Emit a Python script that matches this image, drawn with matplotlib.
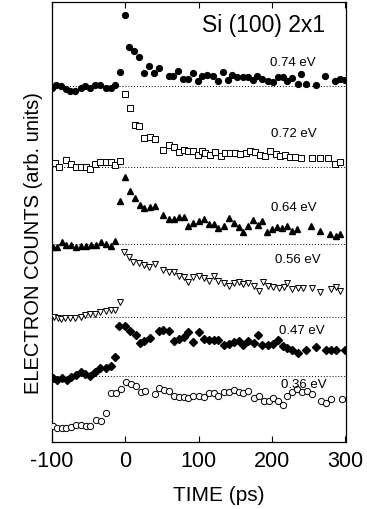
import numpy as np
import matplotlib
matplotlib.use("Agg")
import matplotlib.pyplot as plt

plt.rcParams['font.family'] = ['Liberation Sans', 'DejaVu Sans']
plt.rcParams['axes.unicode_minus'] = False

# time delay (ps) and electron counts (arb. units, relative to each trace's pre-zero level)
t_074 = [-100, -94, -88, -81, -75, -68, -61, -55, -48, -41, -34, -27, -20, -14,
         -7, -1, 5, 12, 19, 25, 32, 39, 46, 59, 65, 72, 79, 85, 92, 99, 105,
         112, 119, 126, 133, 140, 146, 153, 160, 167, 174, 180, 187, 194, 201,
         208, 215, 221, 228, 235, 240, 246, 260, 273, 286, 293, 300]
c_074 = [-2, 1.3, 0, -2.7, -4.3, -4.3, -1.3, 0, -2, 1.3, 1.3, -2, -1.3, 1.7,
         14.7, 71.7, 39.7, 35.7, 29.7, 13, 20.3, 13, 18, 10.7, 10.7, 15.3, 7.3, 7.3, 13.3, 5.7, 10,
         11.3, 10, 5.7, 14, 6.7, 11.3, 9, 9, 9, 6.3, 10, 7.3, 5.7, 4.7,
         9, 9, 5.7, 8, 2.3, 12.3, 2.3, 1.3, 10.7, 5.7, 7.3, 6.7]

t_072 = [-96, -91, -81, -74, -67, -60, -54, -48, -41, -34, -27, -20, -14, -7,
         -1, 6, 13, 19, 26, 33, 40, 52, 59, 66, 73, 80, 86, 93, 99, 104,
         109, 116, 123, 130, 136, 143, 150, 157, 164, 170, 177, 184, 191, 198,
         205, 211, 218, 225, 232, 239, 254, 266, 277, 286, 293]
c_072 = [4, 0.7, 7.7, 3.3, 0, 0, 0, -1.7, 3.3, 5, 5, 5, 2.7, 6.7,
         73.3, 59.3, 42, 41, 29.6, 30, 28.6, 17.6, 22.6, 20.6, 15.6, 17.6, 16.6, 16, 12.3, 16,
         14, 12.3, 15, 11.7, 14.3, 14, 14, 13.7, 14, 16.7, 15, 12.3, 11.7, 16,
         13.3, 11.7, 12.3, 10, 10, 9, 9, 9, 9, 3.3, 5.7]

t_064 = [-98, -93, -87, -81, -74, -67, -60, -54, -47, -40, -33, -27, -20, -14,
         -7, 0, 6, 13, 20, 26, 33, 40, 52, 59, 66, 73, 80, 86, 93, 100, 107,
         114, 121, 127, 134, 141, 148, 155, 161, 167, 174, 181, 187, 193, 200,
         207, 214, 221, 227, 234, 253, 266, 279, 287, 293]
c_064 = [-3.3, -3.3, 1.7, -1, -1, -3.3, -2.3, -2.3, -1, -1, 1.7, 0, -2.3, 3.3,
         43.3, 67.3, 52.7, 45.7, 39, 35.7, 36.7, 38.3, 29, 25, 25, 26.7, 26.7, 18.3, 21, 23.3, 25,
         20, 20, 15.7, 17.7, 25.7, 21, 16.7, 11.7, 18.3, 24.3, 19, 23.3, 11.7, 15,
         16.7, 15.7, 17.7, 13.3, 15, 17.7, 13.3, 10, 8.3, 10]

t_056 = [-97, -92, -88, -82, -75, -68, -61, -55, -48, -41, -34, -27, -20, -14, -7,
         -2, 5, 11, 18, 25, 32, 41, 52, 59, 66, 73, 80, 86, 93, 100, 107,
         114, 121, 127, 134, 141, 148, 155, 161, 168, 175, 182, 188, 195, 202,
         209, 216, 221, 228, 235, 242, 254, 266, 280, 287, 293]
c_056 = [0, -1, -1.7, -0.7, -0.7, -0.7, 0, 2.3, 3.3, 3.3, 5, 6.7, 7.3, 7.3, 15.7,
         65.7, 60, 55.7, 54.3, 52.3, 50, 53.3, 47.7, 45.7, 45, 41, 40, 35, 40, 41, 39,
         36.7, 41.7, 36.7, 34, 31.7, 34.3, 35, 33.3, 34.3, 31.7, 26.7, 35, 31.7, 30,
         29, 30, 34.3, 28.3, 29, 29, 29, 25.7, 28.3, 30, 26.7]

t_047 = [-99, -93, -86, -80, -74, -67, -60, -55, -48, -41, -34, -27, -20, -14,
         -8, -1, 7, 14, 20, 26, 33, 46, 52, 59, 66, 73, 80, 86, 93, 100, 107,
         114, 121, 127, 134, 141, 148, 155, 161, 168, 175, 181, 187, 194, 201,
         208, 215, 221, 228, 235, 247, 260, 274, 281, 287, 299]
c_047 = [-2, -3.3, -2, -3.3, -1, 1.3, 4, 2.3, 0, 4, 8, 8, 10, 19,
         50, 50.7, 45.7, 41.3, 33.3, 35.7, 38, 45.7, 46.7, 45.7, 35.7, 37.3, 39, 44, 34, 44, 37.3,
         36.7, 36.7, 36.7, 31.3, 32.3, 34.7, 35.7, 31.3, 35.7, 33.3, 41.7, 31.3, 31.3, 32.3,
         36.7, 30.7, 28, 26.7, 23, 26.7, 29, 26.7, 26.7, 26.7, 26.7]

t_036 = [-98, -93, -87, -81, -74, -67, -60, -54, -48, -40, -33, -26, -20, -13,
         -6, 1, 8, 14, 21, 27, 40, 46, 53, 60, 67, 73, 80, 86, 93, 100, 107,
         114, 121, 127, 134, 141, 148, 155, 161, 168, 175, 182, 189, 196, 201,
         208, 215, 221, 227, 234, 241, 248, 255, 267, 274, 281, 295]
c_036 = [1.7, -0.7, -0.7, -0.7, 0, 2.7, 2.7, 1.7, 1.7, 7.7, 6.7, 14, 34, 34,
         38.3, 45, 43.3, 41, 35, 36.7, 33.3, 39, 37.7, 36.7, 31.7, 30, 30, 29, 31.7, 31.7, 30,
         34, 34, 31, 35, 35, 37.7, 35, 34, 36, 29, 31, 26.7, 26, 29,
         26.7, 22.3, 31, 35, 38.3, 35, 36, 33.3, 26.7, 24.3, 28.3, 28.3]

labels = ['0.74 eV', '0.72 eV', '0.64 eV', '0.56 eV', '0.47 eV', '0.36 eV']
times = [t_074, t_072, t_064, t_056, t_047, t_036]
counts = [c_074, c_072, c_064, c_056, c_047, c_036]

# layout / style per trace
offsets = [355.7, 274.7, 198, 124.7, 65.7, 14.7]
styles = [dict(marker='o', ms=4.2, mfc='k', mec='k'),
          dict(marker='s', ms=4.3, mfc='white', mec='k', mew=0.7),
          dict(marker='^', ms=4.8, mfc='k', mec='k'),
          dict(marker='v', ms=4.8, mfc='white', mec='k', mew=0.7),
          dict(marker='D', ms=3.8, mfc='k', mec='k'),
          dict(marker='o', ms=4.5, mfc='white', mec='k', mew=0.7)]
label_pos = [(197, 380), (199, 309), (199, 235), (204, 183), (210, 112), (213, 58)]

fig = plt.figure(figsize=(3.67, 5.10), dpi=100)
ax = fig.add_axes([0.1417, 0.1314, 0.801, 0.8627])

for i, (t, c) in enumerate(zip(times, counts)):
    if i < 5:
        ax.axhline(offsets[i], color='k', ls=(0, (1, 2)), lw=0.7, zorder=1)
    ax.plot(t, np.array(c) + offsets[i], ls='none', zorder=3, **styles[i])
    ax.text(label_pos[i][0], label_pos[i][1], labels[i], fontsize=9.5,
            ha='left', va='center', zorder=4)

ax.text(105, 418, 'Si (100) 2x1', fontsize=16.5, ha='left', va='center')

ax.set_xlim(-100, 301)
ax.set_ylim(0, 440)
ax.set_xticks([-100, 0, 100, 200, 300])
ax.set_yticks([])
ax.tick_params(axis='x', direction='in', length=4, width=0.8, top=True,
               labelsize=15.5, pad=6)
for s in ax.spines.values():
    s.set_linewidth(0.9)

fig.text(0.597, 0.029, 'TIME (ps)', fontsize=15, ha='center', va='center')
fig.text(0.09, 0.523, 'ELECTRON COUNTS (arb. units)', fontsize=14.5,
         rotation=90, ha='center', va='center')

fig.savefig('out.png', dpi=100)
